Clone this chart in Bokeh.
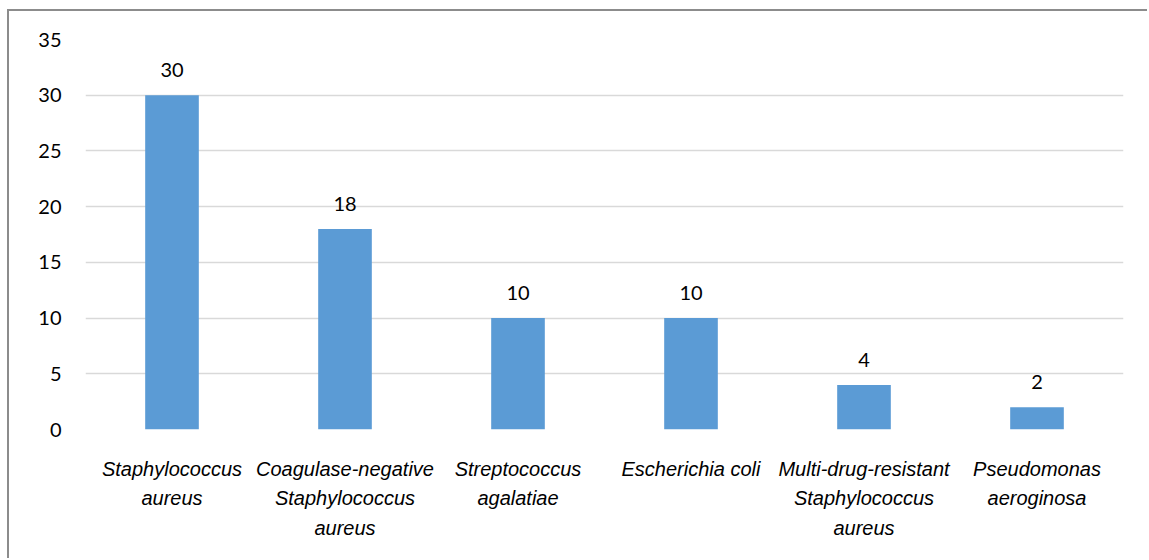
from bokeh.plotting import figure
from bokeh.models import ColumnDataSource, FixedTicker
from bokeh.core.properties import value
from bokeh.embed import file_html
from bokeh.resources import INLINE

categories = [
    "Staphylococcus\naureus",
    "Coagulase-negative\nStaphylococcus\naureus",
    "Streptococcus\nagalatiae",
    "Escherichia coli",
    "Multi-drug-resistant\nStaphylococcus\naureus",
    "Pseudomonas\naeroginosa",
]
counts = [30, 18, 10, 10, 4, 2]
y_ticks = [0, 5, 10, 15, 20, 25, 30, 35]

source = ColumnDataSource(data=dict(cat=categories, val=counts, lab=[str(v) for v in counts]))

p = figure(
    x_range=categories, y_range=(0, 35),
    width=1140, height=549,
    output_backend="svg", toolbar_location=None,
    min_border_left=76, min_border_right=26, min_border_top=28, min_border_bottom=131,
)
p.margin = (9, 0, 0, 7)
p.styles = {"border-left": "2px solid #8c8c8c", "border-top": "2px solid #8c8c8c"}
p.outline_line_color = None
p.background_fill_color = "white"
p.border_fill_color = "white"

p.vbar(x="cat", top="val", width=0.31, source=source, color="#5B9BD5", line_color=None)
p.text(x="cat", y="val", text="lab", source=source, text_align="center",
       text_baseline="middle", y_offset=-25, text_font=value("Lato"),
       text_font_size="20px", text_color="#000000")

p.xgrid.grid_line_color = None
p.ygrid.grid_line_color = "#d9d9d9"
p.ygrid.grid_line_width = 1.5
p.yaxis.ticker = FixedTicker(ticks=y_ticks)
p.yaxis.axis_line_color = None
p.yaxis.major_tick_line_color = None
p.yaxis.minor_tick_line_color = None
p.yaxis.major_label_text_font = "Lato"
p.yaxis.major_label_text_font_size = "20px"
p.yaxis.major_label_text_color = "#000000"
p.yaxis.major_label_standoff = 18

p.xaxis.axis_line_color = None
p.xaxis.major_tick_line_color = None
p.xaxis.major_label_text_font = "Liberation Sans"
p.xaxis.major_label_text_font_style = "italic"
p.xaxis.major_label_text_font_size = "20px"
p.xaxis.major_label_text_color = "#000000"
p.xaxis.major_label_text_line_height = 1.35
p.xaxis.major_label_standoff = 22

open("out.html", "w").write(file_html(p, INLINE))
